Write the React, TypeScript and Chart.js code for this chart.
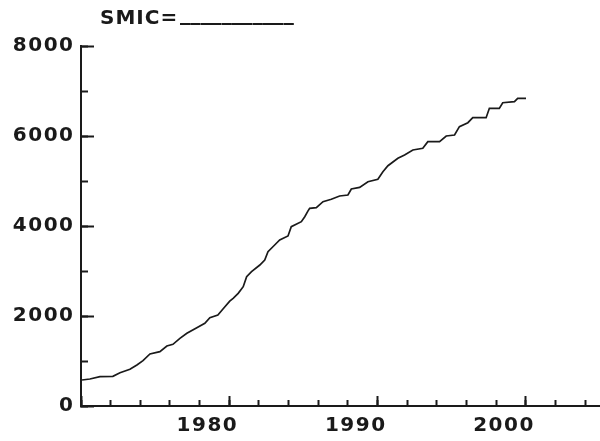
import React, { useEffect, useRef } from "react";
import { Chart, registerables } from "chart.js";

Chart.register(...registerables);

// Year (decimal) of each reading
const years = [
  1970.07, 1970.6, 1971.28, 1972.15, 1972.63, 1973.3, 1973.77, 1974.18, 1974.65, 1975.32,
  1975.79, 1976.2, 1976.67, 1977.14, 1977.81, 1978.35, 1978.69, 1979.23, 1979.56, 1980.03,
  1980.26, 1980.6, 1980.94, 1981.17, 1981.5, 1982.06, 1982.39, 1982.61, 1983.06, 1983.4,
  1983.96, 1984.18, 1984.86, 1985.09, 1985.3, 1985.42, 1985.87, 1986.32, 1986.88, 1987.44,
  1988.0, 1988.23, 1988.79, 1989.35, 1990.02, 1990.36, 1990.7, 1991.37, 1991.82, 1992.38,
  1993.05, 1993.39, 1994.18, 1994.63, 1995.19, 1995.52, 1996.09, 1996.42, 1997.32, 1997.54,
  1998.21, 1998.44, 1999.23, 1999.45, 2000.01,
];

// SMIC values
const smic = [
  578, 600, 651, 660, 740, 815, 911, 1007, 1156, 1207,
  1333, 1370, 1504, 1615, 1741, 1837, 1963, 2022, 2150, 2330,
  2393, 2504, 2652, 2874, 2985, 3133, 3244, 3430, 3578, 3689,
  3778, 3985, 4096, 4207, 4330, 4393, 4407, 4540, 4593, 4667,
  4689, 4822, 4859, 4985, 5037, 5207, 5340, 5504, 5578, 5689,
  5726, 5874, 5874, 6000, 6022, 6207, 6296, 6407, 6407, 6615,
  6615, 6740, 6763, 6837, 6837,
];

const xMin = 1970;
const xMax = 2005;
const yMin = 0;
const yMax = 8000;
const xLabelYears = [1980, 1990, 2000];
const yLabelValues = [0, 2000, 4000, 6000, 8000];
const titleText = "SMIC=";
const blankText = "___________";

const FAMILY = '"DejaVu Sans", sans-serif';
const INK = "#1a1a1a";
const SPACING = "1.5px";

const textPlugin = {
  id: "textPlugin",
  beforeLayout(chart: any) {
    chart.ctx.letterSpacing = SPACING;
  },
  beforeDraw(chart: any) {
    chart.ctx.letterSpacing = SPACING;
  },
  afterDraw(chart: any) {
    const ctx = chart.ctx;
    ctx.save();
    ctx.fillStyle = INK;
    ctx.font = `bold 20px ${FAMILY}`;
    ctx.textAlign = "left";
    ctx.textBaseline = "alphabetic";
    ctx.letterSpacing = "1px";
    ctx.fillText(titleText, 100, 23.5);
    ctx.letterSpacing = "0px";
    ctx.font = `bold 20.7px ${FAMILY}`;
    ctx.fillText(blankText, 180, 20);
    ctx.restore();
  },
};

export default function App() {
  const ref = useRef<HTMLCanvasElement | null>(null);

  useEffect(() => {
    if (!ref.current) return;
    const chart = new Chart(ref.current, {
      type: "line",
      data: {
        datasets: [
          {
            data: years.map((y, i) => ({ x: y, y: smic[i] })),
            borderColor: INK,
            borderWidth: 1.7,
            pointRadius: 0,
            tension: 0,
            fill: false,
          },
        ],
      },
      plugins: [textPlugin],
      options: {
        responsive: false,
        animation: false,
        events: [],
        layout: { padding: { top: 46, left: 0, right: 0, bottom: 0 } },
        plugins: {
          legend: { display: false },
          tooltip: { enabled: false },
          title: { display: false },
        },
        scales: {
          x: {
            type: "linear",
            position: "bottom",
            min: xMin,
            max: xMax,
            afterFit: (s: any) => {
              s.height = 35;
            },
            border: { display: true, color: INK, width: 2 },
            grid: {
              drawOnChartArea: false,
              drawTicks: true,
              tickLength: -6,
              tickWidth: 2,
              tickColor: INK,
            },
            ticks: {
              stepSize: 2,
              includeBounds: false,
              autoSkip: false,
              maxRotation: 0,
              minRotation: 0,
              align: "end",
              labelOffset: 9,
              padding: 14,
              color: INK,
              font: { family: FAMILY, size: 20, weight: "bold" },
              callback: (v: any) => (xLabelYears.includes(Number(v)) ? String(v) : ""),
            },
          },
          xMajor: {
            type: "linear",
            axis: "x",
            position: "bottom",
            weight: -1,
            min: xMin,
            max: xMax,
            afterFit: (s: any) => {
              s.height = 0;
            },
            border: { display: false },
            grid: {
              drawOnChartArea: false,
              drawTicks: true,
              tickLength: -10,
              tickWidth: 2,
              tickColor: INK,
            },
            ticks: { display: false, stepSize: 10, includeBounds: false, autoSkip: false },
          },
          y: {
            type: "linear",
            position: "left",
            min: yMin,
            max: yMax,
            afterFit: (s: any) => {
              s.width = 81;
            },
            border: { display: true, color: INK, width: 2 },
            grid: {
              drawOnChartArea: false,
              drawTicks: true,
              tickLength: -7,
              tickWidth: 2,
              tickColor: INK,
            },
            ticks: {
              stepSize: 1000,
              autoSkip: false,
              padding: 13.5,
              color: INK,
              font: { family: FAMILY, size: 20, weight: "bold" },
              callback: (v: any) => (yLabelValues.includes(Number(v)) ? String(v) : ""),
            },
          },
          yMajor: {
            type: "linear",
            axis: "y",
            position: "left",
            weight: -1,
            min: yMin,
            max: yMax,
            afterFit: (s: any) => {
              s.width = 0;
            },
            border: { display: false },
            grid: {
              drawOnChartArea: false,
              drawTicks: true,
              tickLength: -13,
              tickWidth: 2,
              tickColor: INK,
            },
            ticks: { display: false, stepSize: 2000, autoSkip: false },
          },
        },
      } as any,
    });
    return () => chart.destroy();
  }, []);

  return (
    <div style={{ position: "fixed", left: 0, top: 0, width: 600, height: 441, background: "#fff" }}>
      <canvas ref={ref} width={600} height={441} style={{ width: 600, height: 441, display: "block" }} />
    </div>
  );
}
